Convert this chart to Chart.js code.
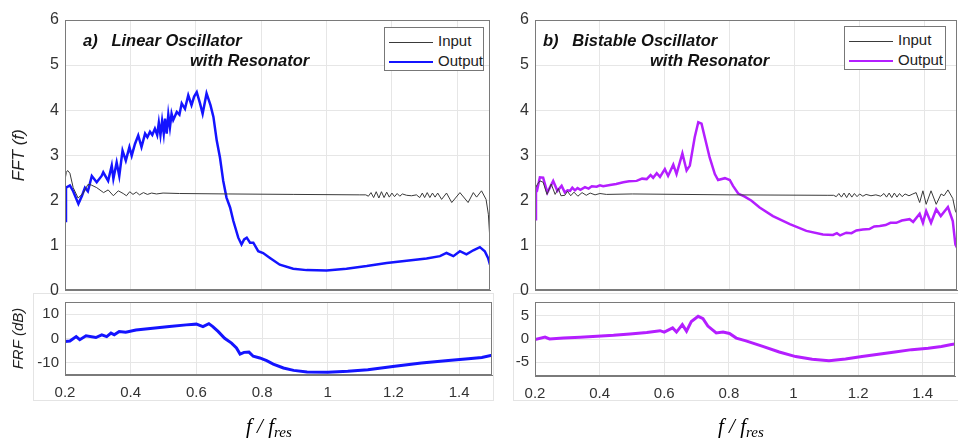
<!DOCTYPE html>
<html>
<head>
<meta charset="utf-8">
<script src="https://cdn.jsdelivr.net/npm/chart.js@4.4.1/dist/chart.umd.min.js"></script>
<style>
  body { margin: 0; background: #fff; width: 958px; height: 438px; overflow: hidden; position: relative;
         font-family: "Liberation Sans", Arial, sans-serif; }
  canvas { position: absolute; }
  .frame { position: absolute; border: 1px solid #e4e4e4; }
  .note { position: absolute; font-weight: bold; font-style: italic; font-size: 16.5px; line-height: 16px;
          color: #111; white-space: nowrap; }
  .legend { position: absolute; border: 1px solid #777; background: #fff; font-size: 15px; color: #222;
            box-sizing: border-box; padding-top: 3px; }
  .legend .row { height: 20px; line-height: 20px; white-space: nowrap; }
  .legend .swatch { display: inline-block; width: 44px; vertical-align: middle; margin: 0 5px 0 4px; }
  .xlabel { position: absolute; font-family: "Liberation Serif", "Times New Roman", serif; font-style: italic;
            font-size: 21px; white-space: nowrap; }
  .xlabel sub { font-size: 15px; vertical-align: -4px; }
</style>
</head>
<body>
<div class="frame" style="left:33px;top:293px;width:459px;height:106px"></div>
<div class="frame" style="left:513px;top:293px;width:444px;height:106px"></div>

<canvas id="fftA" width="500" height="306" style="left:0;top:0"></canvas>
<canvas id="frfA" width="500" height="151" style="left:0;top:287px"></canvas>
<canvas id="fftB" width="458" height="306" style="left:500px;top:0"></canvas>
<canvas id="frfB" width="458" height="151" style="left:500px;top:287px"></canvas>

<div class="note" style="left:83px;top:32px">a)&nbsp;&nbsp; Linear Oscillator</div>
<div class="note" style="left:190px;top:52px">with Resonator</div>
<div class="note" style="left:543px;top:32px">b)&nbsp;&nbsp; Bistable Oscillator</div>
<div class="note" style="left:650px;top:52px">with Resonator</div>

<div class="legend" id="legA" style="left:384px;top:27px;width:100px;height:44px"></div>
<div class="legend" id="legB" style="left:844px;top:26px;width:102px;height:44px"></div>

<div class="xlabel" style="left:246px;top:414px">f / f<sub>res</sub></div>
<div class="xlabel" style="left:718px;top:414px">f / f<sub>res</sub></div>

<script>
const X_TICKS = [0.2, 0.4, 0.6, 0.8, 1, 1.2, 1.4];
const FFT_TICKS = [0, 1, 2, 3, 4, 5, 6];
const FRF_A_TICKS = [-10, 0, 10];
const FRF_B_TICKS = [-5, 0, 5];

const INPUT_COLOR = "#3a3a3a";
const BLUE = "#1414ff";
const MAGENTA = "#b41eff";

// [f/fres, value]
const linearInput = [[0.200,2.45],[0.204,2.62],[0.208,2.66],[0.215,2.60],[0.225,2.28],[0.240,2.05],[0.255,2.15],[0.270,2.35],[0.280,2.34],[0.297,2.28],[0.318,2.17],[0.332,2.23],[0.348,2.10],[0.363,2.21],[0.378,2.15],[0.388,2.10],[0.398,2.19],[0.408,2.13],[0.418,2.18],[0.428,2.12],[0.440,2.17],[0.452,2.13],[0.465,2.16],[0.480,2.14],[0.500,2.16],[0.550,2.15],[0.700,2.14],[0.900,2.13],[1.100,2.12],[1.120,2.12],[1.128,2.09],[1.136,2.17],[1.144,2.06],[1.152,2.19],[1.160,2.05],[1.168,2.19],[1.176,2.06],[1.184,2.18],[1.192,2.07],[1.200,2.16],[1.208,2.08],[1.216,2.15],[1.224,2.09],[1.232,2.14],[1.245,2.11],[1.260,2.10],[1.275,2.12],[1.285,2.06],[1.293,2.16],[1.300,2.06],[1.308,2.17],[1.316,2.06],[1.324,2.16],[1.332,2.07],[1.340,2.16],[1.352,2.02],[1.367,2.16],[1.383,1.95],[1.408,2.17],[1.433,1.95],[1.449,2.17],[1.459,2.07],[1.474,2.21],[1.488,2.02],[1.495,1.69],[1.500,1.09]];

const linearOutput = [[0.200,1.54],[0.203,2.28],[0.215,2.33],[0.225,2.20],[0.241,1.92],[0.252,2.10],[0.261,2.28],[0.270,2.20],[0.282,2.54],[0.297,2.40],[0.312,2.54],[0.317,2.62],[0.332,2.43],[0.343,2.77],[0.348,2.48],[0.358,2.84],[0.366,2.54],[0.376,3.10],[0.386,2.88],[0.397,3.18],[0.404,2.99],[0.414,3.25],[0.424,3.44],[0.434,3.18],[0.445,3.48],[0.452,3.40],[0.460,3.52],[0.467,3.45],[0.475,3.59],[0.482,3.45],[0.487,3.72],[0.492,3.45],[0.497,3.76],[0.502,3.48],[0.506,3.81],[0.511,3.48],[0.516,3.90],[0.521,3.62],[0.526,3.92],[0.531,3.78],[0.542,3.96],[0.550,3.90],[0.557,4.15],[0.567,4.03],[0.577,4.33],[0.587,4.11],[0.595,4.30],[0.603,4.40],[0.613,4.15],[0.621,3.92],[0.633,4.37],[0.645,4.11],[0.654,3.85],[0.664,3.33],[0.674,2.95],[0.684,2.43],[0.694,2.06],[0.705,1.84],[0.715,1.54],[0.730,1.17],[0.740,1.02],[0.748,1.13],[0.756,1.17],[0.766,1.06],[0.776,1.06],[0.791,0.87],[0.806,0.83],[0.827,0.72],[0.857,0.57],[0.898,0.48],[0.939,0.45],[1.000,0.44],[1.061,0.48],[1.123,0.54],[1.184,0.61],[1.245,0.66],[1.306,0.71],[1.347,0.76],[1.367,0.83],[1.388,0.76],[1.408,0.87],[1.428,0.80],[1.449,0.89],[1.469,0.96],[1.484,0.87],[1.494,0.72],[1.500,0.57]];

const bistableInput = [[0.200,2.26],[0.207,2.35],[0.215,2.43],[0.225,2.40],[0.237,2.13],[0.250,2.36],[0.262,2.13],[0.272,2.26],[0.280,2.10],[0.292,2.11],[0.300,2.20],[0.310,2.10],[0.320,2.18],[0.332,2.09],[0.345,2.17],[0.358,2.11],[0.370,2.16],[0.385,2.12],[0.400,2.15],[0.420,2.13],[0.500,2.14],[0.800,2.12],[1.100,2.11],[1.120,2.11],[1.128,2.08],[1.136,2.15],[1.144,2.07],[1.152,2.16],[1.160,2.06],[1.168,2.16],[1.176,2.07],[1.184,2.15],[1.192,2.08],[1.200,2.14],[1.210,2.09],[1.220,2.13],[1.235,2.10],[1.250,2.12],[1.265,2.09],[1.275,2.15],[1.283,2.07],[1.291,2.16],[1.299,2.06],[1.307,2.16],[1.315,2.07],[1.323,2.15],[1.331,2.08],[1.340,2.14],[1.352,2.10],[1.364,2.14],[1.374,2.17],[1.385,1.95],[1.395,2.21],[1.405,1.91],[1.420,2.21],[1.436,1.91],[1.451,2.14],[1.460,2.10],[1.472,2.23],[1.487,2.04],[1.495,1.76],[1.500,1.70]];

const bistableOutput = [[0.200,1.58],[0.203,2.28],[0.207,2.24],[0.215,2.51],[0.225,2.50],[0.238,2.17],[0.256,2.43],[0.269,2.21],[0.282,2.32],[0.292,2.17],[0.300,2.22],[0.308,2.21],[0.315,2.28],[0.323,2.22],[0.331,2.27],[0.340,2.23],[0.354,2.29],[0.365,2.26],[0.375,2.31],[0.390,2.30],[0.400,2.33],[0.410,2.31],[0.431,2.34],[0.450,2.36],[0.472,2.40],[0.490,2.42],[0.513,2.43],[0.530,2.48],[0.544,2.47],[0.556,2.56],[0.564,2.50],[0.575,2.60],[0.585,2.52],[0.600,2.69],[0.610,2.54],[0.626,2.79],[0.636,2.58],[0.654,3.04],[0.667,2.66],[0.677,2.77],[0.692,3.40],[0.703,3.73],[0.713,3.70],[0.723,3.40],[0.738,2.95],[0.754,2.58],[0.764,2.45],[0.785,2.49],[0.800,2.45],[0.810,2.32],[0.826,2.15],[0.846,2.08],[0.867,1.99],[0.892,1.84],[0.933,1.65],[0.985,1.47],[1.036,1.32],[1.087,1.24],[1.118,1.23],[1.130,1.27],[1.140,1.22],[1.159,1.28],[1.175,1.27],[1.190,1.33],[1.210,1.35],[1.230,1.36],[1.245,1.42],[1.262,1.43],[1.280,1.45],[1.295,1.50],[1.313,1.50],[1.330,1.55],[1.354,1.58],[1.365,1.52],[1.385,1.70],[1.395,1.50],[1.405,1.76],[1.420,1.50],[1.436,1.80],[1.450,1.65],[1.472,1.85],[1.487,1.54],[1.495,1.02],[1.500,0.95]];

const linearFrf = [[0.200,-1.2],[0.215,-1.0],[0.234,0.8],[0.245,-0.5],[0.264,1.1],[0.294,0.4],[0.312,1.5],[0.327,0.8],[0.340,2.2],[0.350,1.5],[0.365,2.9],[0.385,2.6],[0.416,3.5],[0.467,4.2],[0.518,4.9],[0.569,5.6],[0.600,5.9],[0.620,4.9],[0.638,6.1],[0.650,4.9],[0.666,2.9],[0.686,0.1],[0.707,-1.9],[0.722,-3.9],[0.733,-6.4],[0.745,-5.7],[0.760,-5.6],[0.773,-7.3],[0.793,-8.0],[0.814,-9.1],[0.834,-10.5],[0.865,-12.1],[0.896,-13.1],[0.937,-13.8],[1.000,-13.9],[1.061,-13.5],[1.122,-12.8],[1.204,-11.4],[1.285,-10.1],[1.367,-9.0],[1.428,-8.3],[1.469,-7.8],[1.500,-6.9]];

const bistableFrf = [[0.200,-0.1],[0.231,0.4],[0.245,0.0],[0.288,0.2],[0.340,0.4],[0.392,0.6],[0.443,0.8],[0.494,1.1],[0.546,1.4],[0.587,1.8],[0.600,1.5],[0.626,2.4],[0.638,1.5],[0.656,3.1],[0.669,1.7],[0.684,3.8],[0.705,4.9],[0.720,4.4],[0.735,2.8],[0.761,1.3],[0.782,1.5],[0.802,1.2],[0.823,0.2],[0.853,-0.4],[0.905,-1.6],[0.956,-2.8],[1.007,-3.8],[1.058,-4.4],[1.110,-4.7],[1.161,-4.3],[1.212,-3.8],[1.263,-3.3],[1.314,-2.8],[1.366,-2.3],[1.417,-2.0],[1.458,-1.6],[1.489,-1.2],[1.500,-1.1]];

function pts(pairs) {
  return pairs.map(p => ({ x: p[0], y: p[1] }));
}

function line(pairs, color, width) {
  return { data: pts(pairs), borderColor: color, borderWidth: width, pointRadius: 0, tension: 0, fill: false };
}

// MATLAB style box around the plot area
const boxPlugin = {
  id: "box",
  afterDraw(chart) {
    const a = chart.chartArea;
    const ctx = chart.ctx;
    ctx.save();
    ctx.strokeStyle = "#7a7a7a";
    ctx.lineWidth = 1;
    ctx.strokeRect(Math.round(a.left) + 0.5, Math.round(a.top) + 0.5,
                   Math.round(a.right - a.left) - 1, Math.round(a.bottom - a.top) - 1);
    ctx.restore();
  }
};

function panel(id, datasets, o) {
  return new Chart(document.getElementById(id), {
    type: "line",
    data: { datasets },
    plugins: [boxPlugin],
    options: {
      responsive: false,
      animation: false,
      devicePixelRatio: 1,
      layout: { padding: o.pad },
      plugins: { legend: { display: false }, tooltip: { enabled: false } },
      scales: {
        x: {
          type: "linear", min: 0.2, max: 1.5,
          afterBuildTicks: s => { s.ticks = X_TICKS.map(v => ({ value: v })); },
          afterFit: s => { s.height = o.xh; },
          grid: { color: "#e6e6e6", drawTicks: false },
          border: { color: "#7a7a7a" },
          ticks: { display: o.xLabels, padding: 9, color: "#333", font: { size: 15 },
                   maxRotation: 0, callback: v => String(v) }
        },
        y: {
          type: "linear", min: o.yMin, max: o.yMax,
          afterBuildTicks: s => { s.ticks = o.yTicks.map(v => ({ value: v })); },
          afterFit: s => { s.width = o.yw; },
          grid: { color: "#e6e6e6", drawTicks: false },
          border: { color: "#7a7a7a" },
          ticks: { padding: 6, color: "#333", font: { size: o.yFont }, callback: v => String(v) },
          title: { display: !!o.yTitle, text: o.yTitle, color: "#222",
                   font: { size: o.yTitleSize, style: "italic" }, padding: { top: o.yTitlePad, bottom: 0 } }
        }
      }
    }
  });
}

panel("fftA", [line(linearInput, INPUT_COLOR, 1), line(linearOutput, BLUE, 2.5)], {
  pad: { top: 20, right: 10, bottom: 0, left: 0 }, xh: 7, yw: 65, xLabels: false,
  yMin: 0, yMax: 6, yTicks: FFT_TICKS, yFont: 16, yTitle: "FFT (f)", yTitleSize: 17, yTitlePad: 9
});
panel("frfA", [line(linearFrf, BLUE, 3)], {
  pad: { top: 0, right: 8, bottom: 0, left: 0 }, xh: 63, yw: 65, xLabels: true,
  yMin: -15, yMax: 15, yTicks: FRF_A_TICKS, yFont: 15, yTitle: "FRF (dB)", yTitleSize: 15, yTitlePad: 10
});
panel("fftB", [line(bistableInput, INPUT_COLOR, 1), line(bistableOutput, MAGENTA, 2.5)], {
  pad: { top: 20, right: 1, bottom: 0, left: 0 }, xh: 7, yw: 35, xLabels: false,
  yMin: 0, yMax: 6, yTicks: FFT_TICKS, yFont: 16
});
panel("frfB", [line(bistableFrf, MAGENTA, 3)], {
  pad: { top: 0, right: 3, bottom: 0, left: 0 }, xh: 62, yw: 35, xLabels: true,
  yMin: -8, yMax: 8, yTicks: FRF_B_TICKS, yFont: 15
});

function legend(id, outColor) {
  const el = document.getElementById(id);
  el.innerHTML =
    '<div class="row"><span class="swatch" style="height:1px;background:' + INPUT_COLOR + '"></span>Input</div>' +
    '<div class="row"><span class="swatch" style="height:2px;background:' + outColor + '"></span>Output</div>';
}
legend("legA", BLUE);
legend("legB", MAGENTA);
</script>
</body>
</html>
